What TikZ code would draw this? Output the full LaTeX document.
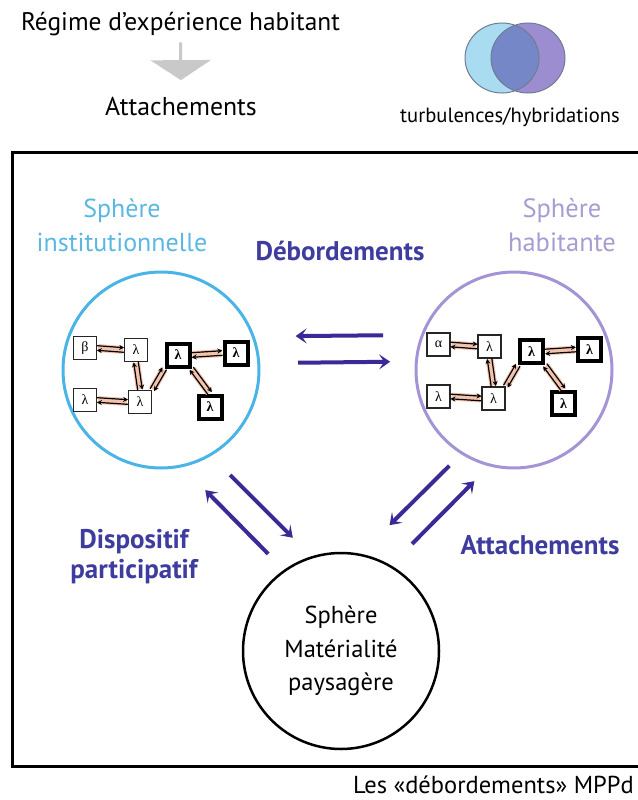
\documentclass[tikz,border=0pt]{standalone}
\usepackage{fontspec}
\setmainfont{PT Sans}
\newfontfamily\greek{Liberation Serif}
\usetikzlibrary{arrows.meta,calc}
\definecolor{skyc}{HTML}{4BB4E6}
\definecolor{skyt}{HTML}{5BB8E2}
\definecolor{lavc}{HTML}{A494D6}
\definecolor{lavt}{HTML}{A89CD2}
\definecolor{indigo}{HTML}{3A2A98}
\definecolor{inkblue}{HTML}{3E3D9F}
\definecolor{peach}{HTML}{F2C3AE}
\definecolor{fog}{HTML}{C9C9C9}
\definecolor{vennblue}{HTML}{A9DBF1}
\definecolor{vennlav}{HTML}{9C8DD1}
\definecolor{vennmix}{HTML}{7587C7}
\definecolor{venntrim}{HTML}{707C92}
\tikzset{
  sphere/.style ={circle, draw=#1, line width=3pt, minimum size=196pt, inner sep=0pt, outer sep=0pt, align=center},
  cell/.style   ={draw=black!85, fill=white, line width=1.1pt, minimum size=23pt, inner sep=0pt,
                  font=\greek\fontsize{14}{14}\selectfont},
  hub/.style    ={draw=black, fill=white, line width=4pt, minimum size=23pt, inner sep=0pt,
                  font=\greek\bfseries\fontsize{14}{14}\selectfont},
  band/.style   ={peach, line width=8pt, shorten <=1pt, shorten >=1pt},
  tiparr/.style ={-{Stealth[length=5pt,width=5pt]}, line width=1.2pt, black},
  bigarr/.style ={-{Stealth[length=11pt,width=15pt,inset=5pt]}, indigo, line width=4pt},
  fogarr/.style ={-{Triangle[length=20pt,width=60pt]}, fog, line width=3pt},
  blulbl/.style ={font=\bfseries\fontsize{27}{30}\selectfont, text=inkblue, align=center},
}
\newcommand\twoway[2]{%
  \draw[band] (#1) -- (#2);
  \draw[tiparr] ($(#1)!2.3pt!90:(#2)$) -- ($(#2)!2.3pt!-90:(#1)$);
  \draw[tiparr] ($(#2)!2.3pt!90:(#1)$) -- ($(#1)!2.3pt!-90:(#2)$);
}

\begin{document}
\begin{tikzpicture}[x=1pt,y=-1pt]
\useasboundingbox (0,0) rectangle (637,800);

% ---- legend on top
\node[font=\fontsize{25.4}{28}\selectfont] (regime) at (180.5,24) {Régime d’expérience habitant};
\node[font=\fontsize{25.8}{28}\selectfont] (attach0) at (181,106) {Attachements};
\draw[fogarr, shorten <=3pt, shorten >=13pt] (regime) -- (attach0);

\fill[vennblue] (502,58) ellipse [x radius=37, y radius=35];
\fill[vennlav] (528,58) ellipse [x radius=37, y radius=35];
\begin{scope}
  \clip (502,58) ellipse [x radius=37, y radius=35];
  \fill[vennmix] (528,58) ellipse [x radius=37, y radius=35];
\end{scope}
\draw[venntrim, line width=1pt] (502,58) ellipse [x radius=37, y radius=35]
  (528,58) ellipse [x radius=37, y radius=35];
\node[font=\fontsize{20.6}{24}\selectfont] (turb) at (510,117) {turbulences/hybridations};

% ---- frame
\draw[line width=3pt] (640,152) -| (12,766) -- (640,766);

% ---- the three spheres
\node[sphere=skyc] (inst) at (161,370) {};
\node[sphere=lavc] (hab) at (514,370) {};
\node[sphere=black, line width=2.5pt, font=\fontsize{24.5}{33.5}\selectfont] (mat) at (341,651)
  {Sphère\\Matérialité\\paysagère};

\node[font=\fontsize{26}{34}\selectfont, text=skyt, align=center] (instlbl) at (122,225) {Sphère\\institutionnelle};
\node[font=\fontsize{26.5}{34}\selectfont, text=lavt, align=center] (hablbl) at (562,225) {Sphère\\habitante};

% ---- actors inside the spheres
\foreach \p/\dx/\dy/\first in {i/0/0/β, h/353.5/-3.5/α}{
  \begin{scope}[shift={(\dx,\dy)}]
    \node[cell] (\p1) at (85,348) {\first};
    \node[cell] (\p2) at (136,350) {λ};
    \node[hub]  (\p3) at (178,355) {λ};
    \node[hub]  (\p4) at (236,353) {λ};
    \node[cell] (\p5) at (85,400) {λ};
    \node[cell] (\p6) at (140,402) {λ};
    \node[hub]  (\p7) at (210,407) {λ};
    \twoway{\p1.east}{\p2.west}
    \twoway{\p2.south}{\p6.north}
    \twoway{\p5.east}{\p6.west}
    \twoway{\p6.north east}{\p3.south west}
    \twoway{\p3.east}{\p4.west}
    \twoway{\p3.south east}{\p7.north}
  \end{scope}
}

% ---- exchanges between spheres
\node[blulbl] (debord) at (340,251) {Débordements};
\draw[bigarr, shorten <=39.5pt, shorten >=42.5pt] (hab.159.08) -- (inst.20.92);
\draw[bigarr, shorten <=39.25pt, shorten >=26.25pt] (inst.4.1) -- (hab.175.9);

\node[blulbl] (dispo) at (134,557) {Dispositif\\participatif};
\draw[bigarr, shorten <=23.7pt, shorten >=34pt] (mat.125) -- (inst.-78.3);
\draw[bigarr, shorten <=28.4pt, shorten >=27.6pt] (inst.-60) -- (mat.107.5);

\node[blulbl] (attach) at (540,545) {Attachements};
\draw[bigarr, shorten <=18pt, shorten >=42pt] (hab.-122.9) -- (mat.79.2);
\draw[bigarr, shorten <=31.3pt, shorten >=22.6pt] (mat.60) -- (hab.-104.2);

\node[anchor=east, inner sep=0pt, font=\fontsize{24.5}{26}\selectfont] (mppd) at (634,785) {Les «débordements» MPPd};
\end{tikzpicture}
\end{document}
